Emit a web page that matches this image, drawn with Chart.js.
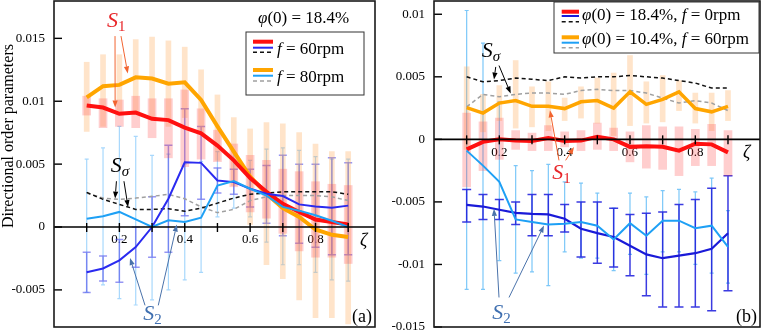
<!DOCTYPE html>
<html>
<head>
<meta charset="utf-8">
<script src="https://cdn.jsdelivr.net/npm/chart.js@4.4.1/dist/chart.umd.min.js"></script>
<style>
  html, body { margin: 0; padding: 0; background: #fff; }
  #wrap { position: relative; width: 763px; height: 333px; overflow: hidden; }
  canvas { position: absolute; top: 0; }
</style>
</head>
<body>
<div id="wrap">
  <canvas id="chartA" width="380" height="333" style="left:0"></canvas>
  <canvas id="chartB" width="383" height="333" style="left:380px"></canvas>
</div>
<script>
// positions along the pipe, shared by both panels
const zeta = [0.1, 0.15, 0.2, 0.25, 0.3, 0.35, 0.4, 0.45, 0.5, 0.55, 0.6, 0.65, 0.7, 0.75, 0.8, 0.85, 0.9];
const xTickLabels = ['0.2', '0.4', '0.6', '0.8'];

// ---- panel (a): phi(0) = 18.4%, f = 60rpm and f = 80rpm
const aS1_60 = [0.00966, 0.0095, 0.0090, 0.0091, 0.0086, 0.0085, 0.0079, 0.00745, 0.00647, 0.0053, 0.0039, 0.0028, 0.00185, 0.0012, 0.0006, 0.0004, 0.0002];
const aS1_80 = [0.0103, 0.0112, 0.0113, 0.0119, 0.0118, 0.0114, 0.0115, 0.0101, 0.0080, 0.0060, 0.0040, 0.00265, 0.0015, 0.0008, -0.0002, -0.00062, -0.0008];
const aS2_60 = [-0.0036, -0.0033, -0.00265, -0.0016, 0.0000, 0.00225, 0.00515, 0.0051, 0.0037, 0.00357, 0.00304, 0.00265, 0.00246, 0.0018, 0.00164, 0.00153, 0.0017];
const aS2_80 = [0.00066, 0.00085, 0.0012, 0.0006, 0.0000, 0.00053, 0.0004, 0.00074, 0.0033, 0.00365, 0.00304, 0.0025, 0.0016, 0.0013, 0.00093, 0.0005, 0.0000];
const aSs_60 = [0.00275, 0.0022, 0.0018, 0.0014, 0.0014, 0.00146, 0.00125, 0.0015, 0.0019, 0.0023, 0.0026, 0.0027, 0.0028, 0.0028, 0.0028, 0.0028, 0.0026];
const aSs_80 = [0.0027, 0.0023, 0.0022, 0.0023, 0.00244, 0.0026, 0.00225, 0.0016, 0.00114, 0.0014, 0.0021, 0.0024, 0.0025, 0.0025, 0.0025, 0.0024, 0.0021];
// error ranges (low / high)
const aS1_60lo = [0.0089, 0.0079, 0.0080, 0.0079, 0.0071, 0.0055, 0.0048, 0.0054, 0.0052, 0.0032, 0.0012, 0.0007, -0.0005, -0.0019, -0.0024, -0.0024, -0.0029];
const aS1_60hi = [0.0104, 0.0102, 0.0101, 0.0104, 0.0102, 0.0102, 0.0109, 0.0094, 0.0077, 0.0066, 0.0057, 0.0053, 0.0046, 0.0044, 0.0036, 0.0034, 0.0033];
const aS1_80lo = [0.0076, 0.0080, 0.0089, 0.0090, 0.0085, 0.0080, 0.0087, 0.0075, 0.0053, 0.0033, 0.0002, -0.0030, -0.0041, -0.0058, -0.0072, -0.0072, -0.0077];
const aS1_80hi = [0.0131, 0.0137, 0.0137, 0.0149, 0.0151, 0.0148, 0.0143, 0.0125, 0.0105, 0.0087, 0.0078, 0.0083, 0.0082, 0.0075, 0.0066, 0.0060, 0.0060];
const aS2_60lo = [-0.0052, -0.0043, -0.0044, -0.0032, -0.0024, -0.0020, 0.0009, 0.0022, 0.0027, 0.0026, 0.0016, 0.0003, -0.0007, -0.0013, -0.0016, -0.0022, -0.0022];
const aS2_60hi = [-0.0020, -0.0023, -0.0010, 0.0000, 0.0024, 0.0065, 0.0094, 0.0080, 0.0047, 0.0046, 0.0046, 0.0049, 0.0057, 0.0050, 0.0050, 0.0055, 0.0051];
const aS2_80lo = [-0.0052, -0.0046, -0.0057, -0.0062, -0.0058, -0.0050, -0.0042, -0.0036, 0.0008, 0.0015, 0.0008, -0.0012, -0.0030, -0.0030, -0.0036, -0.0042, -0.0043];
const aS2_80hi = [0.0054, 0.0063, 0.0080, 0.0072, 0.0057, 0.0058, 0.0050, 0.0052, 0.0060, 0.0060, 0.0053, 0.0062, 0.0063, 0.0061, 0.0056, 0.0054, 0.0054];

// ---- panel (b): phi(0) = 18.4%, f = 0rpm and phi(0) = 10.4%, f = 60rpm
const bS1_0  = [-0.0008, -0.0002, 0.0000, -0.0001, -0.00013, 0.0001, -0.00013, -0.0001, 0.0002, 0.0000, -0.0006, -0.00056, -0.0006, -0.0009, -0.00035, -0.0004, -0.00104];
const bS1_60 = [0.00254, 0.0021, 0.0029, 0.0031, 0.00264, 0.00264, 0.00246, 0.0030, 0.0031, 0.0025, 0.0038, 0.0028, 0.0032, 0.0038, 0.00246, 0.0022, 0.00264];
const bS2_0  = [-0.00523, -0.00537, -0.00563, -0.00587, -0.00595, -0.0060, -0.00635, -0.00715, -0.0075, -0.0078, -0.0085, -0.0092, -0.0095, -0.0093, -0.0091, -0.00875, -0.0075];
const bS2_60 = [-0.0009, -0.0021, -0.0034, -0.0064, -0.0066, -0.0068, -0.00675, -0.0066, -0.0069, -0.0080, -0.0067, -0.0077, -0.0065, -0.0065, -0.0071, -0.0069, -0.0086];
const bSs_0  = [0.0050, 0.0046, 0.0047, 0.0049, 0.0048, 0.0047, 0.0050, 0.0049, 0.0050, 0.0050, 0.0051, 0.0050, 0.0049, 0.0047, 0.0045, 0.0041, 0.0041];
const bSs_60 = [0.0026, 0.0036, 0.0034, 0.0036, 0.0037, 0.0037, 0.0036, 0.0039, 0.0040, 0.0039, 0.0039, 0.0037, 0.0033, 0.0029, 0.0031, 0.0029, 0.0023];
const bS1_0lo  = [-0.0038, -0.0025, -0.0016, -0.0008, -0.0009, -0.0009, -0.0006, -0.0009, -0.0008, -0.0009, -0.0018, -0.0023, -0.0024, -0.0029, -0.0021, -0.0021, -0.0029];
const bS1_0hi  = [0.0021, 0.0014, 0.0017, 0.0007, 0.0005, 0.0011, 0.0006, 0.0007, 0.0013, 0.0009, 0.0006, 0.0011, 0.0010, 0.0010, 0.0008, 0.0012, 0.0007];
const bS1_60lo = [-0.0008, 0.0006, 0.0015, 0.0009, 0.0010, 0.0007, 0.0015, 0.0017, 0.0013, 0.0003, 0.0011, 0.0013, 0.0014, 0.0023, 0.0013, 0.0007, 0.0015];
const bS1_60hi = [0.0058, 0.0036, 0.0043, 0.0063, 0.0042, 0.0046, 0.0033, 0.0042, 0.0049, 0.0053, 0.0067, 0.0046, 0.0051, 0.0047, 0.0037, 0.0037, 0.0039];
const bS2_0lo  = [-0.0066, -0.0064, -0.0064, -0.0068, -0.0077, -0.0077, -0.0074, -0.0094, -0.0099, -0.0102, -0.0109, -0.0125, -0.0134, -0.0134, -0.0134, -0.0137, -0.0121];
const bS2_0hi  = [-0.0040, -0.0044, -0.0048, -0.0050, -0.0044, -0.0044, -0.0052, -0.0050, -0.0050, -0.0055, -0.0060, -0.0059, -0.0058, -0.0052, -0.0048, -0.0039, -0.0029];
const bS2_60lo = [-0.0120, -0.0120, -0.0097, -0.0107, -0.0106, -0.0117, -0.0090, -0.0095, -0.0095, -0.0105, -0.0092, -0.0108, -0.0090, -0.0090, -0.0100, -0.0107, -0.0115];
const bS2_60hi = [0.0103, 0.0077, 0.0030, -0.0021, -0.0025, -0.0020, -0.0034, -0.0035, -0.0043, -0.0055, -0.0043, -0.0046, -0.0041, -0.0040, -0.0042, -0.0031, -0.0057];

const serif = "'Liberation Serif', 'DejaVu Serif', serif";
const RED = '#ff1010', ORANGE = '#ffa500', LIGHTBLUE = '#1ea0f5';
const PINK = 'rgba(255,60,60,0.25)', PEACH = 'rgba(255,165,80,0.3)';

function fnt(size, italic) { return (italic ? 'italic ' : '') + size + 'px ' + serif; }
function pts(ys) { return zeta.map((z, i) => ({ x: z, y: ys[i] })); }
function rng(lo, hi) { return zeta.map((z, i) => ({ x: z, y: [lo[i], hi[i]] })); }

function lineDs(ys, color, width, dash, order) {
  return { type: 'line', data: pts(ys), borderColor: color, borderWidth: width, borderDash: dash || [],
    pointRadius: 0, fill: false, tension: 0, order: order };
}
function barDs(lo, hi, color, thick, order) {
  return { type: 'bar', data: rng(lo, hi), backgroundColor: color, barThickness: thick,
    borderWidth: 0, grouped: false, order: order };
}

function drawRich(ctx, x, y, parts, align) {
  let w = 0;
  parts.forEach(p => { ctx.font = fnt(p.s, p.i); w += ctx.measureText(p.t).width; });
  let cx = align === 'right' ? x - w : x;
  parts.forEach(p => {
    ctx.font = fnt(p.s, p.i);
    ctx.fillStyle = p.c || '#000';
    ctx.fillText(p.t, cx, y + (p.dy || 0));
    cx += ctx.measureText(p.t).width;
  });
}

function arrow(ctx, x1, y1, x2, y2, color) {
  const a = Math.atan2(y2 - y1, x2 - x1), h = 7, w = 2.6;
  const bx = x2 - h * Math.cos(a), by = y2 - h * Math.sin(a);
  ctx.strokeStyle = color; ctx.fillStyle = color; ctx.lineWidth = 1;
  ctx.beginPath(); ctx.moveTo(x1, y1); ctx.lineTo(bx, by); ctx.stroke();
  ctx.beginPath(); ctx.moveTo(x2, y2);
  ctx.lineTo(bx + w * Math.sin(a), by - w * Math.cos(a));
  ctx.lineTo(bx - w * Math.sin(a), by + w * Math.cos(a));
  ctx.closePath(); ctx.fill();
}

function sLabel(sub, color, subItalic) {
  return [{ t: 'S', s: 22, i: true, c: color }, { t: sub, s: 15, i: subItalic, c: color, dy: 4 }];
}

// error bars, axis ticks, frame, legend and labels
function decor(cfg) {
  return {
    id: 'decor',
    beforeDatasetsDraw(chart) {
      const { ctx, scales: { x, y } } = chart;
      ctx.save();
      cfg.err.forEach(e => {
        ctx.strokeStyle = e.color; ctx.lineWidth = e.width;
        zeta.forEach((z, i) => {
          const px = x.getPixelForValue(z), lo = y.getPixelForValue(e.lo[i]), hi = y.getPixelForValue(e.hi[i]);
          ctx.beginPath();
          ctx.moveTo(px, lo); ctx.lineTo(px, hi);
          ctx.moveTo(px - e.cap, lo); ctx.lineTo(px + e.cap, lo);
          ctx.moveTo(px - e.cap, hi); ctx.lineTo(px + e.cap, hi);
          ctx.stroke();
        });
      });
      ctx.restore();
    },
    afterDraw(chart) {
      const { ctx, chartArea: ca, scales: { x, y } } = chart;
      const y0 = y.getPixelForValue(0);
      const R = ca.right, T = ca.top;
      ctx.save();
      ctx.strokeStyle = '#000';
      ctx.lineWidth = 1.6;
      ctx.beginPath(); ctx.moveTo(ca.left, y0); ctx.lineTo(ca.right, y0); ctx.stroke();
      ctx.lineWidth = 1.4;
      x.ticks.forEach(t => {
        if (t.value <= 0.01) return;
        const px = x.getPixelForValue(t.value);
        ctx.beginPath(); ctx.moveTo(px, y0 - 4); ctx.lineTo(px, y0 + 5); ctx.stroke();
      });
      y.ticks.forEach(t => {
        const py = y.getPixelForValue(t.value);
        ctx.beginPath(); ctx.moveTo(ca.left, py); ctx.lineTo(ca.left + 8, py); ctx.stroke();
      });
      ctx.lineWidth = 1.6; ctx.strokeStyle = '#1a1a1a';
      ctx.strokeRect(ca.left, ca.top, ca.width, ca.height);

      ctx.textBaseline = 'alphabetic';
      if (cfg.yTitle) {
        ctx.save();
        ctx.translate(9, T + 135);
        ctx.rotate(-Math.PI / 2);
        ctx.font = fnt(16, false); ctx.fillStyle = '#000';
        ctx.textAlign = 'center'; ctx.textBaseline = 'middle';
        ctx.fillText(cfg.yTitle, 0, 0);
        ctx.restore();
      }

      // legend
      const L = cfg.legend;
      ctx.fillStyle = '#fff';
      ctx.fillRect(R - L.box[0], T + L.box[1], L.box[2], L.box[3]);
      ctx.strokeStyle = '#333'; ctx.lineWidth = 1;
      ctx.strokeRect(R - L.box[0], T + L.box[1], L.box[2], L.box[3]);
      L.entries.forEach(en => {
        en.lines.forEach(ln => {
          ctx.strokeStyle = ln[1]; ctx.lineWidth = ln[2]; ctx.setLineDash(ln[3] || []);
          ctx.beginPath(); ctx.moveTo(R - L.sx[0], T + ln[0]); ctx.lineTo(R - L.sx[1], T + ln[0]); ctx.stroke();
        });
        ctx.setLineDash([]);
        drawRich(ctx, R - L.tx, T + en.base, en.parts);
      });

      // annotations
      (cfg.notes || []).forEach(n => {
        drawRich(ctx, x.getPixelForValue(n.at[0]), y.getPixelForValue(n.at[1]), n.parts);
      });
      (cfg.arrows || []).forEach(a => {
        arrow(ctx, x.getPixelForValue(a[0]), y.getPixelForValue(a[1]), x.getPixelForValue(a[2]), y.getPixelForValue(a[3]), a[4]);
      });
      if (cfg.header) drawRich(ctx, R - cfg.header.dx, T + cfg.header.base, cfg.header.parts);
      drawRich(ctx, R - cfg.zetaDx, y0 + 19, [{ t: 'ζ', s: 18, i: true }]);
      drawRich(ctx, R - 3, ca.bottom - 5, [{ t: cfg.tag, s: 18 }], 'right');
      ctx.restore();
    }
  };
}

function makeChart(id, cfg) {
  return new Chart(document.getElementById(id), {
    type: 'bar',
    data: { datasets: cfg.datasets },
    options: {
      responsive: false,
      animation: false,
      events: [],
      layout: { padding: cfg.pad },
      plugins: { legend: { display: false }, tooltip: { enabled: false } },
      scales: {
        x: {
          type: 'linear', min: 0, max: cfg.xMax, offset: false,
          position: { y: 0 },
          grid: { display: false, drawTicks: false },
          border: { display: false },
          ticks: {
            stepSize: 0.1, autoSkip: false, maxRotation: 0, includeBounds: false, padding: 5,
            color: '#000', font: { family: serif, size: 13 },
            callback: v => xTickLabels.includes(v.toFixed(1)) ? v.toFixed(1) : ''
          },
          afterFit: s => { s.paddingLeft = 0; s.paddingRight = 0; }
        },
        y: {
          type: 'linear', min: cfg.yMin, max: cfg.yMax,
          grid: { display: false, drawTicks: false },
          border: { display: false },
          ticks: {
            stepSize: 0.005, includeBounds: false, padding: 9,
            color: '#000', font: { family: serif, size: 13 },
            callback: v => String(+v.toFixed(4))
          },
          afterFit: s => { s.width = 54; s.paddingTop = 0; s.paddingBottom = 0; }
        }
      }
    },
    plugins: [decor(cfg)]
  });
}

const DASH = [4, 3];

makeChart('chartA', {
  pad: { left: 0, right: 5, top: 1, bottom: 6 },
  xMax: 0.982, yMin: -0.00795, yMax: 0.01797,
  yTitle: 'Directional order parameters',
  tag: '(a)', zetaDx: 15,
  datasets: [
    lineDs(aS2_80, LIGHTBLUE, 2, null, 0),
    lineDs(aS2_60, '#2a2af0', 2, null, 1),
    lineDs(aS1_60, RED, 4, null, 2),
    lineDs(aS1_80, ORANGE, 4, null, 3),
    lineDs(aSs_60, '#111', 1.5, DASH, 4),
    lineDs(aSs_80, '#a0a0a0', 1.5, DASH, 5),
    barDs(aS1_60lo, aS1_60hi, PINK, 8, 6),
    barDs(aS1_80lo, aS1_80hi, PEACH, 5, 7)
  ],
  err: [
    { lo: aS2_80lo, hi: aS2_80hi, color: 'rgba(110,190,250,0.6)', width: 1.2, cap: 2 },
    { lo: aS2_60lo, hi: aS2_60hi, color: 'rgba(80,80,235,0.6)', width: 1.5, cap: 4 }
  ],
  header: { dx: 117, base: 22, parts: [{ t: 'φ', s: 17, i: true }, { t: '(0) = 18.4%', s: 17 }] },
  legend: {
    box: [129, 31, 118, 63], sx: [122, 102], tx: 98,
    entries: [
      { lines: [[40.7, RED, 4], [46.7, '#2a2af0', 2], [51.3, '#111', 1.5, DASH]], base: 53,
        parts: [{ t: 'f', s: 17, i: true }, { t: ' = 60rpm', s: 17 }] },
      { lines: [[69, ORANGE, 4], [74.7, LIGHTBLUE, 2], [80, '#a0a0a0', 1.5, DASH]], base: 80.7,
        parts: [{ t: 'f', s: 17, i: true }, { t: ' = 80rpm', s: 17 }] }
    ]
  },
  notes: [
    { at: [0.162, 0.0159], parts: sLabel('1', '#e8262a') },
    { at: [0.1736, 0.00438], parts: sLabel('σ', '#000', true) },
    { at: [0.2734, -0.00743], parts: sLabel('2', '#3f6fb0') }
  ],
  arrows: [
    [0.1867, 0.01518, 0.187, 0.0095, '#f26430'],
    [0.205, 0.01518, 0.2256, 0.01221, '#f26430'],
    [0.191, 0.00364, 0.187, 0.00226, '#000'],
    [0.214, 0.00364, 0.2265, 0.00159, '#000'],
    [0.2785, -0.00623, 0.2326, -0.00247, '#4a72aa'],
    [0.319, -0.00623, 0.3756, 0.00019, '#4a72aa']
  ]
});

makeChart('chartB', {
  pad: { left: 0, right: 3, top: 1, bottom: 6 },
  xMax: 0.998, yMin: -0.0150, yMax: 0.01106,
  tag: '(b)', zetaDx: 17,
  datasets: [
    lineDs(bS2_60, LIGHTBLUE, 2, null, 0),
    lineDs(bS2_0, '#1a1ad8', 2.2, null, 1),
    lineDs(bS1_0, RED, 4, null, 2),
    lineDs(bS1_60, ORANGE, 3.5, null, 3),
    lineDs(bSs_0, '#111', 1.5, DASH, 4),
    lineDs(bSs_60, '#a0a0a0', 1.5, DASH, 5),
    barDs(bS1_0lo, bS1_0hi, PINK, 8, 6),
    barDs(bS1_60lo, bS1_60hi, PEACH, 5, 7)
  ],
  err: [
    { lo: bS2_60lo, hi: bS2_60hi, color: 'rgba(80,180,245,0.75)', width: 1.2, cap: 2 },
    { lo: bS2_0lo, hi: bS2_0hi, color: 'rgba(25,25,220,0.85)', width: 1.5, cap: 4.5 }
  ],
  legend: {
    box: [206, 1, 205, 51], sx: [198.3, 181], tx: 178,
    entries: [
      { lines: [[10.7, RED, 4], [15, '#1a1ad8', 2], [20.7, '#111', 1.5, DASH]], base: 19,
        parts: [{ t: 'φ', s: 17, i: true }, { t: '(0) = 18.4%, ', s: 17 }, { t: 'f', s: 17, i: true }, { t: ' = 0rpm', s: 17 }] },
      { lines: [[36.3, ORANGE, 4], [41.7, LIGHTBLUE, 2], [46.7, '#a0a0a0', 1.5, DASH]], base: 42.5,
        parts: [{ t: 'φ', s: 17, i: true }, { t: '(0) = 10.4%, ', s: 17 }, { t: 'f', s: 17, i: true }, { t: ' = 60rpm', s: 17 }] }
    ]
  },
  notes: [
    { at: [0.146, 0.0066], parts: sLabel('σ', '#000', true) },
    { at: [0.362, -0.00315], parts: sLabel('1', '#e8262a') },
    { at: [0.1785, -0.01437], parts: sLabel('2', '#3f6fb0') }
  ],
  arrows: [
    [0.189, 0.00579, 0.1837, 0.00478, '#000'],
    [0.199, 0.0059, 0.2348, 0.00366, '#000'],
    [0.3826, -0.00168, 0.355, 0.00232, '#f26430'],
    [0.403, -0.00168, 0.4285, -0.00062, '#f26430'],
    [0.199, -0.01264, 0.1837, -0.00555, '#4a72aa'],
    [0.2296, -0.01264, 0.3367, -0.00689, '#4a72aa']
  ]
});
</script>
</body>
</html>
